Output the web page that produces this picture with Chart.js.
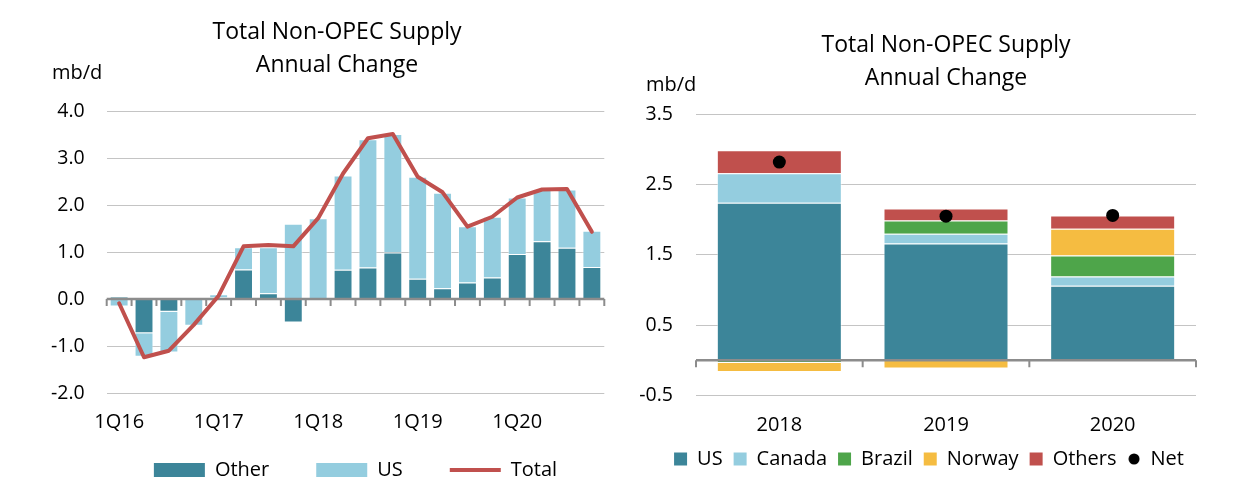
<!DOCTYPE html>
<html>
<head>
<meta charset="utf-8">
<script src="https://cdn.jsdelivr.net/npm/chart.js@4.4.0/dist/chart.umd.min.js"></script>
<style>
html,body{margin:0;padding:0;background:#fff;width:1238px;height:496px;overflow:hidden;font-family:"Open Sans",sans-serif;}
#c1{position:absolute;left:0;top:0;z-index:1;}
#c2{position:absolute;left:620px;top:0;z-index:2;}
.unit{position:absolute;font-size:20px;line-height:20px;color:#000;z-index:3;}
</style>
</head>
<body>
<canvas id="c1" width="674" height="496"></canvas>
<canvas id="c2" width="618" height="496"></canvas>
<div class="unit" style="left:52px;top:62px;">mb/d</div>
<div class="unit" style="left:646px;top:74px;">mb/d</div>
<script>
// ---------- Left chart data ----------
const quarters = ['1Q16','2Q16','3Q16','4Q16','1Q17','2Q17','3Q17','4Q17','1Q18','2Q18','3Q18','4Q18','1Q19','2Q19','3Q19','4Q19','1Q20','2Q20','3Q20','4Q20'];
const otherQ = [0.05,-0.73,-0.27,0.00,0.03,0.63,0.12,-0.50,0.00,0.62,0.67,0.99,0.43,0.23,0.35,0.46,0.96,1.23,1.09,0.68];
const usQ    = [-0.16,-0.50,-0.87,-0.57,0.07,0.47,0.98,1.60,1.72,2.01,2.73,2.52,2.17,2.03,1.20,1.29,1.20,1.09,1.24,0.77];
const totalQ = [-0.09,-1.24,-1.10,-0.55,0.07,1.12,1.15,1.12,1.72,2.67,3.42,3.51,2.60,2.27,1.54,1.75,2.16,2.33,2.34,1.43];
const leftTitle = ['Total Non-OPEC Supply','Annual Change'];

// ---------- Right chart data ----------
const years   = ['2018','2019','2020'];
const usY     = [2.24,1.66,1.06];
const canadaY = [0.42,0.14,0.13];
const brazilY = [-0.04,0.19,0.30];
const norwayY = [-0.13,-0.12,0.38];
const othersY = [0.33,0.17,0.19];
const netY    = [2.82,2.05,2.06];
const rightTitle = ['Total Non-OPEC Supply','Annual Change'];

// ---------- Styles ----------
const C_DARK='#3C8599', C_LIGHT='#94CDDF', C_RED='#C0504D', C_GREEN='#4EA54A', C_YELLOW='#F5BC41';
const GRID='#c4c4c4', AXIS='#8c8c8c';
Chart.defaults.font.family="'Open Sans', sans-serif";
Chart.defaults.color='#000';

const dotImg=document.createElement('canvas');
dotImg.width=12;dotImg.height=12;
(function(){const g=dotImg.getContext('2d');g.fillStyle='#000';g.beginPath();g.arc(6,6,5.5,0,Math.PI*2);g.fill();})();

const zeroAxis={
  id:'zeroAxis',
  beforeDatasetDraw(chart,args){
    if(args.meta.type!=='line')return;
    const {ctx,chartArea:a,scales}=chart;
    const y0=scales.y.getPixelForValue(0);
    const n=chart.data.labels.length;
    ctx.save();
    ctx.strokeStyle=AXIS;ctx.lineWidth=2.5;
    ctx.beginPath();ctx.moveTo(a.left,y0);ctx.lineTo(a.right,y0);ctx.stroke();
    ctx.lineWidth=2;ctx.beginPath();
    for(let i=0;i<=n;i++){const xx=a.left+(a.right-a.left)*i/n;ctx.moveTo(xx,y0);ctx.lineTo(xx,y0+7);}
    ctx.stroke();ctx.restore();
  }
};

function legendLabels(chart){
  const items=Chart.defaults.plugins.legend.labels.generateLabels(chart);
  items.forEach(it=>{
    const ds=chart.data.datasets[it.datasetIndex];
    if(ds.type==='line'&&ds.showLine!==false){it.pointStyle='line';it.strokeStyle=ds.borderColor;it.lineWidth=4;}
    else if(ds.type==='line'){it.pointStyle=dotImg;it.lineWidth=0;}
    else{it.pointStyle='rect';it.lineWidth=0;it.fillStyle=ds.backgroundColor;}
  });
  return items.sort((a,b)=>a.datasetIndex-b.datasetIndex);
}

const barBorder='rgba(255,255,255,0.45)';

new Chart(document.getElementById('c1'),{
  type:'bar',
  data:{labels:quarters,datasets:[
    {type:'bar',label:'Other',data:otherQ,backgroundColor:C_DARK,borderColor:barBorder,borderWidth:1,stack:'s',order:1,barPercentage:0.76,categoryPercentage:1},
    {type:'bar',label:'US',data:usQ,backgroundColor:C_LIGHT,borderColor:barBorder,borderWidth:1,stack:'s',order:1,barPercentage:0.76,categoryPercentage:1},
    {type:'line',label:'Total',data:totalQ,borderColor:C_RED,backgroundColor:C_RED,borderWidth:4,pointRadius:0,tension:0,borderJoinStyle:'round',borderCapStyle:'round',stack:'t',order:0}
  ]},
  options:{
    responsive:false,animation:false,
    layout:{padding:{top:0,left:0,right:0,bottom:6}},
    plugins:{
      title:{display:true,text:leftTitle,fullSize:true,color:'#000',font:{size:23,weight:'normal',lineHeight:33/23},padding:{top:15.5,bottom:29.5}},
      legend:{position:'bottom',fullSize:false,labels:{usePointStyle:true,pointStyleWidth:51,boxHeight:14,padding:47,font:{size:20},color:'#000',generateLabels:legendLabels}},
      tooltip:{enabled:false}
    },
    scales:{
      x:{stacked:true,grid:{display:false,drawTicks:false},border:{display:false},
         ticks:{autoSkip:false,maxRotation:0,mirror:true,padding:-41,font:{size:20},color:'#000',callback:(v,i)=>quarters[i].startsWith('1Q')?quarters[i]:''},
         afterFit(s){s.height=20;}},
      y:{stacked:true,min:-2,max:4,grid:{color:GRID,drawTicks:false},border:{display:false},
         ticks:{stepSize:1,padding:22,font:{size:19.5},color:'#000',callback:v=>v.toFixed(1)},
         afterFit(s){s.width=106.7;}},
      y2:{position:'right',display:true,grid:{display:false,drawTicks:false},border:{display:false},ticks:{display:false},afterFit(s){s.width=69.7;}}
    }
  },
  plugins:[zeroAxis]
});

new Chart(document.getElementById('c2'),{
  type:'bar',
  data:{labels:years,datasets:[
    {type:'bar',label:'US',data:usY,backgroundColor:C_DARK,borderColor:barBorder,borderWidth:1,stack:'s',order:1,barPercentage:0.75,categoryPercentage:1},
    {type:'bar',label:'Canada',data:canadaY,backgroundColor:C_LIGHT,borderColor:barBorder,borderWidth:1,stack:'s',order:1,barPercentage:0.75,categoryPercentage:1},
    {type:'bar',label:'Brazil',data:brazilY,backgroundColor:C_GREEN,borderColor:barBorder,borderWidth:1,stack:'s',order:1,barPercentage:0.75,categoryPercentage:1},
    {type:'bar',label:'Norway',data:norwayY,backgroundColor:C_YELLOW,borderColor:barBorder,borderWidth:1,stack:'s',order:1,barPercentage:0.75,categoryPercentage:1},
    {type:'bar',label:'Others',data:othersY,backgroundColor:C_RED,borderColor:barBorder,borderWidth:1,stack:'s',order:1,barPercentage:0.75,categoryPercentage:1},
    {type:'line',label:'Net',data:netY,showLine:false,pointRadius:6.5,pointStyle:'circle',pointBackgroundColor:'#000',pointBorderWidth:0,backgroundColor:'#000',borderColor:'#000',stack:'n',order:0}
  ]},
  options:{
    responsive:false,animation:false,
    layout:{padding:{top:0,left:0,right:0,bottom:17}},
    plugins:{
      title:{display:true,text:rightTitle,fullSize:false,color:'#000',font:{size:23,weight:'normal',lineHeight:33/23},padding:{top:28.5,bottom:19.8}},
      legend:{position:'bottom',fullSize:true,labels:{usePointStyle:true,boxWidth:13,boxHeight:13,padding:11,font:{size:20},color:'#000',generateLabels:legendLabels}},
      tooltip:{enabled:false}
    },
    scales:{
      x:{stacked:true,grid:{display:false,drawTicks:false},border:{display:false},
         ticks:{maxRotation:0,padding:17.7,font:{size:20},color:'#000'},
         afterFit(s){s.height=42.7;}},
      y:{stacked:true,min:-0.5,max:3.5,grid:{color:GRID,drawTicks:false},border:{display:false},
         ticks:{stepSize:1,padding:23,font:{size:19.5},color:'#000',callback:v=>v.toFixed(1)},
         afterFit(s){s.width=76;}},
      y2:{position:'right',display:true,grid:{display:false,drawTicks:false},border:{display:false},ticks:{display:false},afterFit(s){s.width=42;}}
    }
  },
  plugins:[zeroAxis]
});
</script>
</body>
</html>
